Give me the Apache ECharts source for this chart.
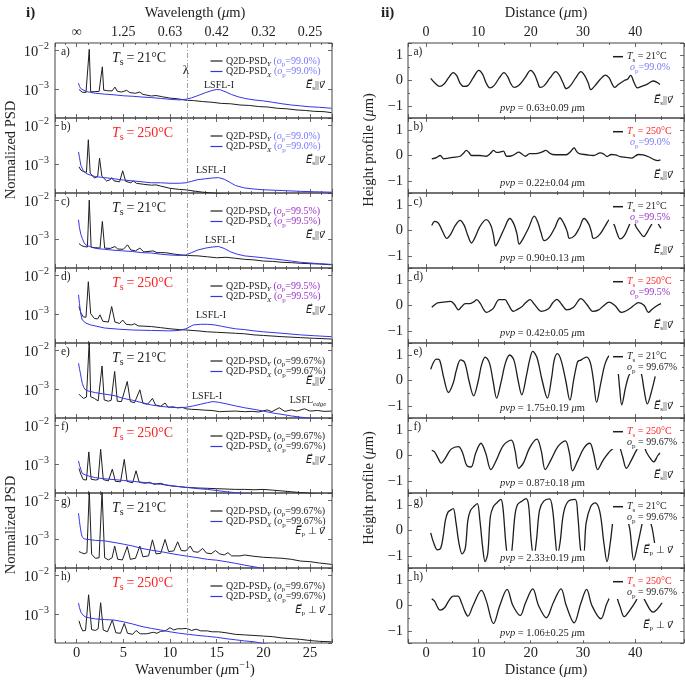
<!DOCTYPE html>
<html><head><meta charset="utf-8">
<script src="https://cdn.jsdelivr.net/npm/echarts@6/dist/echarts.min.js"></script>
<style>html,body{margin:0;padding:0;background:#fff}#c{width:685px;height:686px}</style>
</head><body><div id="c"></div><script>
// ---------------- DATA ----------------
const lambdaK = 11.8;
const waveTickK = [0, 5, 10, 15, 20, 25];
const waveTickLabels = ['∞', '1.25', '0.63', '0.42', '0.32', '0.25'];
const panelLetters = ['a)', 'b)', 'c)', 'd)', 'e)', 'f)', 'g)', 'h)'];
const tempC = ['21', '250', '21', '250', '21', '250', '21', '250'];
const opValues = ['99.0', '99.0', '99.5', '99.5', '99.67', '99.67', '99.67', '99.67'];
const polarization = ['s', 's', 's', 's', 's', 's', 'p', 'p'];
const pvpValues = ['0.63±0.09', '0.22±0.04', '0.90±0.13', '0.42±0.05', '1.75±0.19', '0.87±0.18', '2.33±0.19', '1.06±0.25'];

// PSD (wavenumber µm^-1, normalized PSD)
const psdY_a = [[0.25,1.0e-3],[0.6,8.5e-4],[1.0,8.4e-4],[1.2,8.6e-4],[1.35,1.07e-2],[1.5,8.7e-4],[1.9,8.8e-4],[2.4,8.9e-4],[2.6,9.5e-4],[2.75,3.8e-3],[2.9,9.6e-4],[3.3,9.3e-4],[3.8,9.2e-4],[4.1,1.15e-3],[4.35,9.0e-4],[4.8,8.6e-4],[5.36,9.5e-4],[5.7,8.3e-4],[6.3,8.0e-4],[6.75,8.6e-4],[7.1,7.5e-4],[8,6.8e-4],[8.5,7.0e-4],[9.2,6.5e-4],[10,6.0e-4],[10.8,5.8e-4],[11.7,5.3e-4],[12.5,5.2e-4],[13.5,4.9e-4],[14.5,4.7e-4],[15.5,4.4e-4],[16.5,4.3e-4],[17.5,4.0e-4],[18.5,3.9e-4],[19.5,3.65e-4],[20.5,3.55e-4],[21.5,3.3e-4],[22.5,3.2e-4],[23.5,3.0e-4],[24.5,2.9e-4],[25.5,2.75e-4],[26.5,2.7e-4],[27.3,2.55e-4]];
const psdX_a = [[0.2,1.45e-3],[0.3,1.2e-3],[0.45,1.05e-3],[0.6,9.8e-4],[1,8.9e-4],[1.5,8.4e-4],[2,8.0e-4],[3,7.6e-4],[4,7.3e-4],[5,6.9e-4],[6,6.7e-4],[7,6.4e-4],[8,6.2e-4],[9,5.9e-4],[10,5.6e-4],[11,5.4e-4],[11.7,5.6e-4],[12.3,6.1e-4],[13,7.0e-4],[13.8,8.3e-4],[14.5,9.4e-4],[15,1.0e-3],[15.4,9.8e-4],[16,8.6e-4],[16.6,7.4e-4],[17.3,6.5e-4],[18,5.9e-4],[19,5.4e-4],[20,5.1e-4],[21,4.7e-4],[22,4.3e-4],[23,4.0e-4],[24,3.8e-4],[25,3.6e-4],[26,3.5e-4],[27.3,3.3e-4]];

const psdY_b = [[0.25,8.7e-4],[0.45,7.2e-4],[0.7,6.6e-4],[1.05,6.3e-4],[1.25,4.3e-3],[1.45,6.0e-4],[1.9,4.5e-4],[2.25,4.9e-4],[2.45,1.45e-3],[2.7,5.0e-4],[3.2,3.8e-4],[3.55,4.0e-4],[3.75,4.6e-4],[4.0,3.8e-4],[4.6,3.6e-4],[4.93,6.9e-4],[5.25,3.7e-4],[5.8,3.4e-4],[6.07,3.8e-4],[6.4,3.3e-4],[7.2,3.1e-4],[8,2.95e-4],[8.5,3.0e-4],[9,2.8e-4],[10,2.45e-4],[11,2.3e-4],[11.7,2.24e-4],[12.5,2.1e-4],[13.5,1.95e-4],[14.5,1.85e-4],[16,1.75e-4],[20,1.6e-4],[27.3,1.5e-4]];
const psdX_b = [[0.2,2.1e-3],[0.3,1.5e-3],[0.45,9.5e-4],[0.7,7.0e-4],[1,5.9e-4],[1.5,5.3e-4],[2,4.9e-4],[3,4.6e-4],[4,4.3e-4],[5,4.0e-4],[6,3.8e-4],[7,3.6e-4],[8,3.4e-4],[9,3.4e-4],[10,3.3e-4],[11,3.3e-4],[11.7,3.4e-4],[12.3,3.7e-4],[13,4.1e-4],[13.8,4.3e-4],[14.5,4.5e-4],[15.2,4.6e-4],[15.8,4.2e-4],[16.5,3.4e-4],[17,2.9e-4],[18,2.5e-4],[19,2.35e-4],[20,2.25e-4],[22,2.15e-4],[24,2.05e-4],[25.5,2.0e-4],[27.3,1.95e-4]];

const psdY_c = [[0.25,7.9e-4],[0.5,7.0e-4],[0.8,6.6e-4],[1.15,6.4e-4],[1.35,1.02e-2],[1.55,6.3e-4],[2.0,6.2e-4],[2.5,6.0e-4],[2.75,2.9e-3],[3.0,6.0e-4],[3.6,5.9e-4],[4.1,6.6e-4],[4.4,5.7e-4],[5.0,5.6e-4],[5.45,7.3e-4],[5.8,5.4e-4],[6.3,5.1e-4],[6.77,6.0e-4],[7.2,4.8e-4],[8.2,5.1e-4],[8.6,4.6e-4],[9.5,4.6e-4],[10.5,4.2e-4],[11.7,3.9e-4],[13,3.8e-4],[14,3.6e-4],[15,3.4e-4],[16,3.5e-4],[17,3.3e-4],[18,3.1e-4],[19,3.0e-4],[20,2.8e-4],[21,2.75e-4],[22,2.6e-4],[23,2.55e-4],[24,2.45e-4],[25,2.4e-4],[26,2.35e-4],[27.3,2.25e-4]];
const psdX_c = [[0.2,3.2e-3],[0.3,2.0e-3],[0.45,1.35e-3],[0.6,1.07e-3],[0.8,8.2e-4],[1,7.2e-4],[1.5,6.5e-4],[2,5.9e-4],[3,5.6e-4],[4,5.3e-4],[5,5.1e-4],[6,4.9e-4],[7,4.6e-4],[8,4.5e-4],[9,4.2e-4],[10,4.0e-4],[11,3.9e-4],[11.7,4.0e-4],[12.3,4.6e-4],[13,5.4e-4],[13.8,6.0e-4],[14.5,6.4e-4],[15.2,6.6e-4],[15.8,5.9e-4],[16.5,4.8e-4],[17.2,4.2e-4],[18,3.8e-4],[19,3.6e-4],[20,3.4e-4],[21,3.2e-4],[22,3.0e-4],[23,2.8e-4],[24,2.6e-4],[25,2.5e-4],[26,2.4e-4],[27.3,2.3e-4]];

const psdY_d = [[0.25,1.6e-3],[0.45,1.1e-3],[0.7,8.7e-4],[1.0,8.5e-4],[1.25,6.9e-3],[1.5,1.05e-3],[1.9,7.9e-4],[2.25,7.7e-4],[2.5,9.8e-4],[2.8,6.7e-4],[3.4,6.4e-4],[3.75,1.6e-3],[4.1,6.4e-4],[4.6,5.9e-4],[4.93,7.2e-4],[5.3,5.6e-4],[5.9,5.4e-4],[6.2,5.8e-4],[6.6,5.1e-4],[8,4.9e-4],[9,4.6e-4],[10,4.3e-4],[11,4.1e-4],[11.7,4.0e-4],[13,3.8e-4],[14,3.6e-4],[15,3.5e-4],[16,3.4e-4],[17,3.3e-4],[18,3.2e-4],[19,3.0e-4],[20,2.9e-4],[22,2.7e-4],[24,2.55e-4],[25.5,2.45e-4],[27.3,2.35e-4]];
const psdX_d = [[0.2,3.2e-3],[0.3,1.9e-3],[0.45,1.0e-3],[0.6,7.2e-4],[1,6.0e-4],[1.5,5.4e-4],[3,4.5e-4],[4.5,4.2e-4],[6,4.0e-4],[8,3.9e-4],[10,3.8e-4],[11,3.9e-4],[11.7,4.3e-4],[12.5,5.4e-4],[13.3,5.6e-4],[14,5.6e-4],[14.8,5.4e-4],[15.5,5.0e-4],[16.3,4.6e-4],[17,4.3e-4],[18,4.1e-4],[19,3.8e-4],[20,3.6e-4],[22,3.3e-4],[24,3.0e-4],[25.5,2.85e-4],[27.3,2.7e-4]];

const psdY_e = [[0.25,7.6e-4],[0.5,6.6e-4],[0.75,5.9e-4],[1.05,6.4e-4],[1.2,7.0e-4],[1.35,1.78e-2],[1.5,6.5e-4],[1.9,5.9e-4],[2.3,5.1e-4],[2.72,4.0e-3],[2.95,5.4e-4],[3.4,5.0e-4],[3.7,5.3e-4],[4.07,2.9e-3],[4.35,5.0e-4],[4.8,4.9e-4],[5.42,1.6e-3],[5.75,4.9e-4],[6.2,4.6e-4],[6.77,9.8e-4],[7.1,4.4e-4],[7.6,4.2e-4],[8.12,5.9e-4],[8.45,4.0e-4],[9.0,3.7e-4],[9.47,4.5e-4],[9.8,3.5e-4],[10.3,3.6e-4],[10.8,3.4e-4],[11.3,3.5e-4],[11.7,3.2e-4],[12.3,3.1e-4],[13,3.05e-4],[13.7,2.95e-4],[14.5,2.9e-4],[15.3,2.7e-4],[16,2.75e-4],[17,2.8e-4],[18,2.7e-4],[18.8,2.75e-4],[19.5,2.65e-4],[20.4,3.0e-4],[20.9,2.7e-4],[21.7,3.4e-4],[22.3,2.75e-4],[23,3.0e-4],[23.6,2.8e-4],[24.4,3.2e-4],[25,2.8e-4],[25.8,2.9e-4],[26.5,2.75e-4],[27.3,2.8e-4]];
const psdX_e = [[0.2,4.7e-3],[0.3,3.4e-3],[0.4,2.6e-3],[0.5,1.9e-3],[0.6,1.45e-3],[0.75,1.15e-3],[0.9,1.0e-3],[1.2,9.2e-4],[2,8.3e-4],[3,7.6e-4],[4,7.0e-4],[5,5.9e-4],[6,5.3e-4],[7,4.6e-4],[8,4.0e-4],[9,3.7e-4],[10,3.5e-4],[11,3.4e-4],[11.7,3.5e-4],[12.5,3.8e-4],[13.3,4.2e-4],[14,4.6e-4],[14.6,4.9e-4],[15.2,4.7e-4],[16,4.3e-4],[17,3.8e-4],[18,3.4e-4],[19,3.1e-4],[20,2.8e-4],[21,2.5e-4],[22,2.3e-4],[23,2.1e-4],[24,1.95e-4],[25,1.82e-4],[26,1.72e-4],[27.3,1.6e-4]];

const psdY_f = [[0.25,7.9e-4],[0.45,5.6e-4],[0.7,4.1e-4],[1.05,4.0e-4],[1.3,2.1e-3],[1.55,4.2e-4],[2.0,4.0e-4],[2.3,4.1e-4],[2.57,2.45e-3],[2.85,4.1e-4],[3.4,3.8e-4],[3.82,7.6e-4],[4.15,3.7e-4],[4.7,3.6e-4],[5.1,1.35e-3],[5.4,3.7e-4],[6.0,3.4e-4],[6.36,6.9e-4],[6.7,3.5e-4],[7.3,3.3e-4],[7.8,3.5e-4],[8.3,3.1e-4],[9,3.3e-4],[9.5,3.0e-4],[10,2.85e-4],[11,2.7e-4],[11.7,2.6e-4],[13,2.5e-4],[14,2.45e-4],[15,2.4e-4],[16,2.35e-4],[17,2.3e-4],[18,2.3e-4],[19,2.25e-4],[20,2.3e-4],[21,2.2e-4],[22,2.1e-4],[23,2.0e-4],[24,1.9e-4],[25,1.82e-4],[26,1.75e-4],[27.3,1.7e-4]];
const psdX_f = [[0.2,1.23e-3],[0.3,9.5e-4],[0.45,7.4e-4],[0.6,5.9e-4],[1,5.3e-4],[1.5,4.9e-4],[2,4.6e-4],[3,4.3e-4],[4,4.1e-4],[5,3.9e-4],[6,3.7e-4],[7,3.5e-4],[8,3.3e-4],[9,3.1e-4],[10,2.9e-4],[11,2.7e-4],[12,2.55e-4],[13,2.4e-4],[14,2.3e-4],[15,2.15e-4],[16,2.0e-4],[17,1.9e-4],[18,1.78e-4],[19,1.7e-4],[20,1.62e-4]];

const psdY_g = [[0.25,4.9e-4],[0.5,4.6e-4],[0.8,4.3e-4],[1.1,4.6e-4],[1.35,1.78e-2],[1.6,4.2e-4],[2.0,3.3e-4],[2.4,3.4e-4],[2.72,1.66e-2],[3.0,3.4e-4],[3.4,3.0e-4],[3.8,3.4e-4],[4.07,6.8e-4],[4.4,3.1e-4],[4.9,3.0e-4],[5.42,6.6e-4],[5.75,3.1e-4],[6.3,3.3e-4],[6.77,6.8e-4],[7.1,3.6e-4],[7.7,3.8e-4],[8.12,9.8e-4],[8.5,4.3e-4],[9.0,4.4e-4],[9.47,1.0e-3],[9.85,4.9e-4],[10.4,5.1e-4],[10.82,8.7e-4],[11.2,5.2e-4],[11.7,5.1e-4],[12.17,6.8e-4],[12.5,4.9e-4],[13.0,4.7e-4],[13.5,5.9e-4],[13.9,4.5e-4],[14.4,4.3e-4],[14.87,5.2e-4],[15.3,4.3e-4],[15.8,4.0e-4],[16.2,4.6e-4],[16.6,3.8e-4],[17.5,3.8e-4],[18,4.0e-4],[19,3.7e-4],[20,3.5e-4],[21,3.4e-4],[22,3.3e-4],[23,3.1e-4],[24,2.8e-4],[25,2.7e-4],[26,2.5e-4],[27.3,2.3e-4]];
const psdX_g = [[0.2,4.7e-3],[0.3,2.9e-3],[0.4,1.95e-3],[0.5,1.4e-3],[0.6,1.17e-3],[0.8,1.03e-3],[1.0,9.8e-4],[2,9.5e-4],[3,9.2e-4],[4,8.4e-4],[5,7.6e-4],[6,6.8e-4],[7,5.9e-4],[8,5.3e-4],[9,4.9e-4],[10,4.4e-4],[11,4.0e-4],[12,3.7e-4],[13,3.4e-4],[14,3.1e-4],[15,2.95e-4],[16,2.7e-4],[17,2.45e-4],[18,2.2e-4],[19,2.0e-4],[20,1.8e-4],[21,1.65e-4]];

const psdY_h = [[0.25,6.9e-4],[0.45,4.8e-4],[0.65,3.8e-4],[0.95,3.9e-4],[1.28,3.2e-3],[1.6,4.1e-4],[2.0,3.9e-4],[2.3,4.3e-4],[2.57,2.0e-3],[2.85,4.0e-4],[3.3,3.6e-4],[3.82,7.2e-4],[4.2,3.4e-4],[4.7,3.3e-4],[5.1,5.9e-4],[5.45,3.3e-4],[6.0,3.1e-4],[6.36,3.9e-4],[6.8,3.2e-4],[7.5,3.2e-4],[8.2,3.5e-4],[8.6,3.3e-4],[9,3.7e-4],[9.5,3.8e-4],[10,4.6e-4],[10.4,4.0e-4],[10.8,4.3e-4],[11.3,4.3e-4],[11.8,4.4e-4],[12.3,3.9e-4],[12.8,4.2e-4],[13.3,3.8e-4],[14,3.8e-4],[14.5,3.6e-4],[15.2,3.6e-4],[16,3.4e-4],[17,3.1e-4],[18,3.0e-4],[19,2.9e-4],[20,2.8e-4],[21,2.7e-4],[22,2.5e-4],[23,2.4e-4],[24,2.3e-4],[25,2.15e-4],[26,2.05e-4],[27.3,2.0e-4]];
const psdX_h = [[0.2,1.95e-3],[0.3,1.5e-3],[0.45,1.15e-3],[0.7,9.5e-4],[1,8.5e-4],[2,7.7e-4],[3,7.4e-4],[4,7.2e-4],[5,6.5e-4],[6,5.7e-4],[7,4.9e-4],[8,4.4e-4],[9,4.0e-4],[10,3.6e-4],[11,3.3e-4],[12,3.1e-4],[13,2.9e-4],[14,2.75e-4],[15,2.6e-4],[16,2.4e-4],[17,2.25e-4],[18,2.1e-4],[19,2.0e-4],[20,1.8e-4],[21,1.65e-4]];

// Height profiles (distance µm, height µm)
const prof_a = [[0.9,0.08],[1.8,-0.12],[2.6,-0.23],[3.4,-0.15],[4.3,0.1],[5.2,0.31],[5.9,0.18],[6.5,-0.1],[7.2,-0.23],[8.0,-0.2],[9.0,0.1],[10.1,0.4],[10.8,0.25],[11.5,-0.1],[12.2,-0.29],[13.0,-0.2],[14.0,0.1],[14.9,0.31],[15.6,0.15],[16.2,-0.12],[16.8,-0.27],[17.7,-0.2],[18.9,0.1],[20,0.4],[20.7,0.25],[21.3,-0.05],[21.8,-0.27],[22.6,-0.2],[23.7,0.1],[24.8,0.35],[25.5,0.2],[26.2,-0.1],[26.8,-0.32],[27.6,-0.2],[28.6,0.1],[29.6,0.35],[30.3,0.2],[31.0,-0.1],[31.5,-0.36],[32.3,-0.2],[33.3,0.05],[34.3,0.21],[35.0,0.1],[35.6,-0.15],[36.0,-0.27],[36.8,-0.15],[37.9,0.0],[38.5,0.05],[39.1,0.2],[39.8,-0.1],[40.4,-0.29],[41.2,-0.23],[42.4,-0.13],[43.4,-0.02],[44.2,-0.08],[44.7,-0.16]];
const prof_b = [[1.1,-0.13],[2.0,-0.08],[2.7,0.0],[3.4,-0.13],[4.3,-0.1],[5.2,-0.07],[6.5,-0.03],[7.2,0.1],[7.7,0.2],[8.2,0.12],[8.7,0.0],[9.5,0.0],[10.3,0.0],[11.5,-0.03],[12.3,0.08],[12.9,0.2],[13.5,0.12],[14.1,0.13],[14.8,0.17],[15.4,-0.03],[16.2,-0.02],[17.0,0.05],[17.7,0.13],[18.4,0.05],[19.0,-0.03],[19.8,0.07],[21.0,0.07],[22.1,0.13],[22.9,0.2],[23.6,0.1],[24.2,0.04],[25.5,0.03],[26.8,0.03],[27.6,0.15],[28.3,0.3],[28.8,0.15],[29.3,0.07],[30.7,0.03],[32.0,0.0],[33.3,0.1],[34.0,0.05],[34.6,-0.04],[35.4,0.04],[36.2,0.02],[37.1,-0.04],[38.2,-0.07],[39.3,-0.1],[40.0,-0.02],[40.6,0.04],[41.5,0.02],[42.5,-0.05],[43.7,-0.17],[44.3,-0.2],[44.8,-0.17]];
const prof_c = [[1.1,0.2],[1.7,0.36],[2.4,0.28],[3.2,-0.05],[4.0,-0.31],[4.7,-0.15],[5.6,0.2],[6.5,0.4],[7.3,0.2],[8.0,-0.2],[8.7,-0.49],[9.3,-0.3],[10.3,0.15],[11.5,0.43],[12.4,0.2],[12.9,-0.2],[13.3,-0.6],[14.0,-0.35],[15.0,0.1],[16.0,0.47],[16.8,0.25],[17.4,-0.15],[17.8,-0.53],[18.6,-0.3],[19.6,0.1],[20.7,0.56],[21.4,0.3],[22.0,-0.1],[22.6,-0.4],[23.6,-0.25],[24.6,0.1],[25.6,0.49],[26.4,0.25],[27.0,-0.05],[27.4,-0.31],[28.4,-0.2],[29.3,0.1],[30.2,0.47],[31.1,0.25],[31.6,-0.05],[32.0,-0.31],[33.2,-0.15],[34.3,0.2],[35.1,0.43],[35.9,0.25],[36.5,-0.1],[37.1,-0.33],[37.9,-0.2],[38.6,0.1],[39.1,0.33],[39.6,0.45],[40.1,0.16],[40.8,-0.05],[41.6,-0.24],[42.3,-0.05],[43.0,0.2],[43.8,0.45],[44.6,0.18],[44.9,0.08]];
const prof_d = [[1.1,-0.07],[1.8,0.05],[2.2,0.1],[3.3,0.13],[4.7,0.16],[5.4,0.05],[6.2,-0.17],[6.8,-0.05],[7.5,0.07],[8.3,0.07],[9.2,0.15],[9.7,0.23],[10.3,0.1],[11.6,-0.27],[12.3,-0.2],[12.9,-0.1],[14.0,0.23],[15.1,0.23],[15.7,0.05],[16.7,-0.23],[17.5,-0.15],[18.3,-0.05],[19.0,0.1],[19.9,0.23],[20.7,0.05],[22.1,-0.23],[23.4,-0.13],[24.2,0.1],[25.0,0.24],[25.9,0.05],[26.9,-0.17],[28.2,-0.07],[29.6,0.27],[30.7,0.05],[31.9,-0.23],[33.0,-0.17],[34.0,0.0],[35.0,0.13],[36.1,0.0],[37.4,-0.27],[38.9,-0.13],[40.0,0.05],[40.6,0.11],[41.7,0.0],[42.5,-0.27],[43.2,-0.15],[44.2,0.0],[44.9,0.07]];
const prof_e = [[0.9,0.44],[2.0,0.84],[2.6,0.8],[3.4,0.1],[4.3,-0.47],[5.2,-0.1],[5.8,0.4],[6.6,0.81],[7.4,0.7],[8.2,0.0],[9.1,-0.6],[10.0,0.0],[10.6,0.6],[11.3,0.92],[12.1,0.7],[12.8,0.0],[13.5,-0.69],[14.3,-0.1],[15.2,0.7],[16.0,1.0],[16.8,0.8],[17.6,0.0],[18.3,-0.56],[19.2,0.2],[19.8,0.8],[20.4,1.14],[21.2,0.9],[22.2,0.0],[23.2,-0.69],[24.0,0.1],[24.5,0.8],[25.1,1.05],[25.8,0.8],[26.7,0.0],[27.5,-0.78],[28.2,0.0],[28.9,0.7],[29.2,0.78],[29.6,0.8],[30.2,0.88],[30.7,0.92],[31.4,0.7],[32.0,0.0],[32.6,-0.86],[33.4,-0.1],[34.3,0.7],[35.3,1.0],[36.0,0.9],[36.6,0.5],[37.0,-0.3],[37.4,-0.95],[38.1,-0.3],[38.6,0.1],[39.0,0.3],[40.1,0.95],[41.2,0.22],[41.7,-0.4],[42.3,-0.92],[43.0,-0.5],[43.8,0.16]];
const prof_f = [[1.1,0.2],[1.6,0.15],[2.3,-0.1],[2.9,-0.3],[3.7,-0.1],[4.8,0.25],[6.2,0.35],[7.0,0.1],[7.8,-0.4],[8.6,-0.45],[9.5,0.1],[10.5,0.48],[11.4,0.1],[12.4,-0.55],[13.4,-0.2],[14.8,0.4],[16.3,0.6],[17.0,0.2],[17.7,-0.5],[18.6,-0.3],[19.8,0.3],[21.2,0.64],[22.0,0.2],[22.8,-0.55],[23.8,-0.2],[25.2,0.35],[26.6,0.57],[27.4,0.1],[28.0,-0.6],[29.0,-0.2],[30.2,0.3],[31.3,0.48],[32.0,0.1],[32.8,-0.55],[33.8,-0.2],[35.3,0.2],[36.8,0.35],[37.5,0.0],[38.3,-0.5],[39.2,-0.2],[40.2,0.2],[41.2,0.5],[42.2,0.1],[43.0,-0.15],[43.5,-0.25],[44.3,0.0],[44.7,0.1]];
const prof_g = [[0.9,-0.09],[1.5,-0.5],[2.2,-0.76],[2.8,-0.7],[3.3,-0.2],[3.7,0.4],[4.2,0.72],[4.7,0.8],[5.2,0.86],[5.7,0.35],[6.3,-0.5],[6.9,-0.92],[7.5,-0.7],[8.0,0.4],[8.5,0.78],[9.2,0.95],[9.8,1.05],[10.3,0.4],[10.8,-0.6],[11.3,-1.22],[11.8,-0.9],[12.3,0.55],[12.9,0.95],[13.6,1.1],[14.3,1.22],[14.7,0.9],[15.3,-0.6],[15.9,-1.38],[16.4,-0.8],[17.0,0.6],[17.5,1.02],[18.3,1.15],[19.1,1.25],[19.6,1.0],[20.1,-0.4],[20.6,-1.05],[21.1,-0.4],[21.7,0.8],[22.5,1.15],[23.6,1.24],[24.2,0.8],[24.7,-0.3],[25.1,-0.95],[25.6,-0.5],[26.3,0.7],[27.2,1.15],[28.5,1.22],[29.0,0.6],[29.6,-0.85],[30.1,-0.9],[30.6,0.3],[31.5,0.95],[32.3,1.08],[33.2,0.75],[34.0,-0.5],[34.6,-1.22],[35.2,-0.5],[35.9,0.6],[36.6,0.98],[37.1,1.06],[37.8,0.9],[38.9,0.1],[39.7,-1.16],[40.4,-0.6],[41.2,0.17],[42.0,0.9],[42.6,0.5],[43.2,0.1],[43.7,-0.5],[44.2,-0.95]];
const prof_h = [[1.1,0.26],[1.6,0.18],[2.7,-0.18],[3.5,-0.1],[4.4,0.2],[5.2,0.37],[6.1,0.37],[6.8,0.1],[7.4,-0.22],[8.0,-0.42],[9.0,0.0],[10.6,0.59],[11.5,0.2],[12.9,-0.71],[14.1,0.0],[15.5,0.63],[16.6,0.0],[18.0,-0.39],[19.0,0.1],[20.4,0.65],[21.5,0.0],[23.0,-0.48],[24.3,0.1],[25.8,0.65],[26.8,0.0],[28.3,-0.68],[29.6,0.1],[30.7,0.63],[31.7,0.0],[33.4,-0.52],[34.6,0.1],[35.9,0.52],[37.0,0.0],[37.9,-0.44],[38.9,-0.2],[40.1,0.17],[41.0,0.55],[41.9,0.17],[43.4,-0.26],[45.1,0.1]];

// ---------------- LAYOUT / STYLE ----------------
const FONT = 'Liberation Serif';
const FONT_E = 'Liberation Serif, DejaVu Serif, DejaVu Sans';
const INK = '#1e1e1e', BLUE = '#3535e8', RED = '#ff2020', LBLUE = '#7777ff', PURPLE = '#9a2fc8';
const YMIN = 1.86e-4, YMAX = 1.55e-2;
const LX = 55, LW = 277, RX = 408, RW = 276, TOP0 = 43, PH = 75;
const KMIN = -2.32, KMAX = 27.35, DMIN = -3.44, DMAX = 49.3, HMIN = -1.47, HMAX = 1.47;

const psdY = [psdY_a, psdY_b, psdY_c, psdY_d, psdY_e, psdY_f, psdY_g, psdY_h];
const psdX = [psdX_a, psdX_b, psdX_c, psdX_d, psdX_e, psdX_f, psdX_g, psdX_h];
const profs = [prof_a, prof_b, prof_c, prof_d, prof_e, prof_f, prof_g, prof_h];
const opColor = v => v === '99.0' ? LBLUE : (v === '99.5' ? PURPLE : INK);
const tColor = t => t === '250' ? RED : INK;
const PT = i => TOP0 + PH * i;

function rich(size, color, ccolor) {
  const base = {fontFamily: FONT, fontSize: size, lineHeight: size + 4, fill: color};
  const sub = {fontFamily: FONT, fontSize: Math.round(size * 0.7), lineHeight: Math.round(size * 0.7), verticalAlign: 'bottom', fill: color};
  return {
    n: base, i: Object.assign({}, base, {fontStyle: 'italic'}),
    sub: sub, isub: Object.assign({}, sub, {fontStyle: 'italic'}),
    sup: Object.assign({}, sub, {verticalAlign: 'top'}),
    cn: Object.assign({}, base, {fill: ccolor || color}),
    ci: Object.assign({}, base, {fontStyle: 'italic', fill: ccolor || color}),
    csub: Object.assign({}, sub, {fill: ccolor || color}),
    ie: Object.assign({}, base, {fontStyle: 'italic', fontFamily: FONT_E})
  };
}
function txt(x, y, text, r, opt) {
  opt = opt || {};
  const style = Object.assign({text: text, x: 0, y: 0, rich: r, fontFamily: FONT, fontSize: 12, fill: INK,
    align: opt.align || 'left', textAlign: opt.align || 'left', verticalAlign: 'middle', textVerticalAlign: 'middle'}, opt.style || {});
  return {type: 'text', x: x, y: y, rotation: opt.rotation || 0, z: 100, silent: true, style: style};
}

const grids = [], xAxes = [], yAxes = [], series = [], graphics = [];
const tickStyle = {color: '#444', width: 0.8};
const noLine = {show: false, onZero: false};
function xAx(g, pos, rng, split, minorSplit, label) {
  return {type: 'value', gridIndex: g, position: pos, min: rng[0], max: rng[1], splitNumber: split,
    axisLine: noLine, splitLine: {show: false},
    axisTick: {show: true, inside: true, length: 4, lineStyle: tickStyle},
    minorTick: {show: true, splitNumber: minorSplit, length: 2, lineStyle: tickStyle},
    axisLabel: label || {show: false}};
}
const numLabel = {show: true, fontFamily: FONT, fontSize: 14.5, color: INK, margin: 3, showMinLabel: false, showMaxLabel: false};

for (let p = 0; p < 8; p++) {
  grids.push({left: LX, top: PT(p), width: LW, height: PH, show: true, borderColor: '#444', borderWidth: 1});
}
for (let p = 0; p < 8; p++) {
  grids.push({left: RX, top: PT(p), width: RW, height: PH, show: true, borderColor: '#444', borderWidth: 1});
}

// Left PSD panels
for (let p = 0; p < 8; p++) {
  const g = p;
  xAxes.push(xAx(g, 'bottom', [KMIN, KMAX], 6, 4, p === 7 ? numLabel : null));
  xAxes.push(xAx(g, 'top', [KMIN, KMAX], 6, 4, p === 0 ? {show: true, fontFamily: FONT, fontSize: 14, color: INK, margin: 4,
    formatter: v => { const i = waveTickK.findIndex(k => Math.abs(k - v) < 1e-6); return i >= 0 ? waveTickLabels[i] : ''; }} : null));
  const logLabel = {show: true, margin: 6, showMinLabel: false, showMaxLabel: false,
    formatter: v => { const l = Math.log10(v); const e = Math.round(l); return Math.abs(l - e) < 1e-6 ? '{b|10}{s|−' + (-e) + '}' : ''; },
    rich: {b: {fontFamily: FONT, fontSize: 14.5, color: INK, lineHeight: 19, verticalAlign: 'bottom'},
           s: {fontFamily: FONT, fontSize: 10, color: INK, lineHeight: 10, verticalAlign: 'top'}}};
  yAxes.push({type: 'log', logBase: 10, gridIndex: g, position: 'left', min: YMIN, max: YMAX,
    axisLine: noLine, splitLine: {show: false}, axisTick: {show: true, inside: true, length: 4, lineStyle: tickStyle},
    axisLabel: logLabel});
  yAxes.push({type: 'log', logBase: 10, gridIndex: g, position: 'right', min: YMIN, max: YMAX,
    axisLine: noLine, splitLine: {show: false}, axisTick: {show: true, inside: true, length: 4, lineStyle: tickStyle},
    axisLabel: {show: false}});
  series.push({type: 'line', name: 'Q2D-PSD_Y ' + panelLetters[p], xAxisIndex: 2 * g, yAxisIndex: 2 * g, data: psdY[p],
    symbol: 'none', lineStyle: {color: INK, width: 1}, z: 3,
    markLine: {silent: true, symbol: ['none', 'none'], label: {show: false}, animation: false,
      lineStyle: {color: '#8a8a8a', width: 0.8, type: [5, 2, 1, 2]}, data: [{xAxis: lambdaK}]}});
  series.push({type: 'line', name: 'Q2D-PSD_X ' + panelLetters[p], xAxisIndex: 2 * g, yAxisIndex: 2 * g, data: psdX[p],
    symbol: 'none', lineStyle: {color: BLUE, width: 1}, z: 4});

  const T = PT(p);
  graphics.push(txt(61, T + 9, panelLetters[p], null, {style: {fontSize: 11.5}}));
  graphics.push(txt(112, T + 15.5, '{i|T}{sub|s}{n|\u2009=\u2009' + tempC[p] + '°C}', rich(14, tColor(tempC[p]))));
  graphics.push({type: 'rect', z: 99, silent: true, shape: {x: 205, y: T + 8, width: 122, height: 27}, style: {fill: '#fff'}});
  graphics.push({type: 'line', z: 101, silent: true, shape: {x1: 210.5, y1: T + 18, x2: 222.5, y2: T + 18}, style: {stroke: INK, lineWidth: 1.2}});
  graphics.push({type: 'line', z: 101, silent: true, shape: {x1: 210.5, y1: T + 28.5, x2: 222.5, y2: T + 28.5}, style: {stroke: BLUE, lineWidth: 1.2}});
  const oc = opColor(opValues[p]);
  graphics.push(txt(226, T + 18, '{n|Q2D-PSD}{isub|Y}{n| }{cn|(}{ci|o}{csub|p}{cn|=' + opValues[p] + '%)}', rich(10, INK, oc)));
  graphics.push(txt(226, T + 28.5, '{n|Q2D-PSD}{isub|X}{n| }{cn|(}{ci|o}{csub|p}{cn|=' + opValues[p] + '%)}', rich(10, INK, oc)));
  const eY = (p === 4 || p === 6) ? T + 38 : T + 42;
  const eTxt = polarization[p] === 's' ? '{ie|E\u20D7}{sub|s}{n|||}{ie|v\u20D7}' : '{ie|E\u20D7}{sub|p}{n| ⊥ }{ie|v\u20D7}';
  graphics.push(txt(325, eY, eTxt, rich(10, INK), {align: 'right'}));
}
// LSFL labels and lambda
graphics.push(txt(219, PT(0) + 42, '{n|LSFL-I}', rich(10, INK), {align: 'center'}));
graphics.push(txt(211, PT(1) + 52.7, '{n|LSFL-I}', rich(10, INK), {align: 'center'}));
graphics.push(txt(220, PT(2) + 47, '{n|LSFL-I}', rich(10, INK), {align: 'center'}));
graphics.push(txt(211, PT(3) + 47.7, '{n|LSFL-I}', rich(10, INK), {align: 'center'}));
graphics.push(txt(207, PT(4) + 53, '{n|LSFL-I}', rich(10, INK), {align: 'center'}));
graphics.push(txt(308, PT(4) + 57.5, '{n|LSFL}{isub|edge}', rich(10, INK), {align: 'center'}));
graphics.push(txt(186, PT(0) + 27.5, '{n|λ}', rich(13, INK), {align: 'center'}));

// Right height-profile panels
for (let p = 0; p < 8; p++) {
  const g = 8 + p;
  xAxes.push(xAx(g, 'bottom', [DMIN, DMAX], 5, 2, p === 7 ? numLabel : null));
  xAxes.push(xAx(g, 'top', [DMIN, DMAX], 5, 2, p === 0 ? Object.assign({}, numLabel, {fontSize: 14, margin: 4}) : null));
  yAxes.push({type: 'value', gridIndex: g, position: 'left', min: HMIN, max: HMAX, splitNumber: 3,
    axisLine: noLine, splitLine: {show: false},
    axisTick: {show: true, inside: true, length: 4, lineStyle: tickStyle},
    minorTick: {show: true, splitNumber: 2, length: 2, lineStyle: tickStyle},
    axisLabel: {show: true, fontFamily: FONT, fontSize: 14.5, color: INK, margin: 5, showMinLabel: false, showMaxLabel: false,
      formatter: v => Math.abs(v - Math.round(v)) < 1e-6 ? (v < 0 ? '−' + Math.abs(Math.round(v)) : String(Math.round(v))) : ''}});
  yAxes.push({type: 'value', gridIndex: g, position: 'right', min: HMIN, max: HMAX, splitNumber: 3,
    axisLine: noLine, splitLine: {show: false},
    axisTick: {show: true, inside: true, length: 4, lineStyle: tickStyle},
    minorTick: {show: true, splitNumber: 2, length: 2, lineStyle: tickStyle},
    axisLabel: {show: false}});
  series.push({type: 'line', name: 'Profile ' + panelLetters[p], xAxisIndex: 2 * g, yAxisIndex: 2 * g, data: profs[p],
    symbol: 'none', smooth: 0.35, lineStyle: {color: INK, width: 1.3}, z: 3});

  const T = PT(p);
  graphics.push(txt(413.5, T + 9, panelLetters[p], null, {style: {fontSize: 11.5}}));
  graphics.push({type: 'rect', z: 99, silent: true, shape: {x: 609, y: T + 5, width: 65, height: 26}, style: {fill: '#fff'}});
  graphics.push({type: 'line', z: 101, silent: true, shape: {x1: 613, y1: T + 13.7, x2: 623, y2: T + 13.7}, style: {stroke: INK, lineWidth: 1.5}});
  graphics.push(txt(627, T + 13.7, '{i|T}{sub|s}{n| = ' + tempC[p] + '°C}', rich(10, tColor(tempC[p]))));
  const oc = opColor(opValues[p]);
  const opTxt = opValues[p] === '99.67' ? '{ci|o}{csub|p}{cn| = 99.67%}' : '{ci|o}{csub|p}{cn|=' + opValues[p] + '%}';
  graphics.push(txt(opValues[p] === '99.67' ? 627 : 630, T + 24.3, opTxt, rich(10, INK, oc)));
  graphics.push(txt(499, T + 65, '{i|pvp}{n| = ' + pvpValues[p] + ' }{i|μ}{n|m}', rich(10.5, INK),
    {style: {backgroundColor: '#fff', padding: [0, 1, 0, 1]}}));
  const eTxt = polarization[p] === 's' ? '{ie|E\u20D7}{sub|s}{n|||}{ie|v\u20D7}' : '{ie|E\u20D7}{sub|p}{n| ⊥ }{ie|v\u20D7}';
  graphics.push(txt(673, p === 4 ? T + 63 : T + 57, eTxt, rich(10, INK), {align: 'right', style: {backgroundColor: '#fff'}}));
}

// Titles and axis names
graphics.push(txt(26, 13, 'i)', null, {style: {fontSize: 15, fontWeight: 'bold'}}));
graphics.push(txt(381, 13, 'ii)', null, {style: {fontSize: 15, fontWeight: 'bold'}}));
graphics.push(txt(195, 13, '{n|Wavelength (}{i|μ}{n|m)}', rich(14.5, INK), {align: 'center'}));
graphics.push(txt(546, 13, '{n|Distance (}{i|μ}{n|m)}', rich(14.5, INK), {align: 'center'}));
graphics.push(txt(195, 670, '{n|Wavenumber (}{i|μ}{n|m}{sup|−1}{n|)}', rich(14.5, INK), {align: 'center'}));
graphics.push(txt(546, 670, '{n|Distance (}{i|μ}{n|m)}', rich(14.5, INK), {align: 'center'}));
graphics.push(txt(11, 150, 'Normalized PSD', null, {align: 'center', rotation: Math.PI / 2, style: {fontSize: 14.5}}));
graphics.push(txt(11, 525, 'Normalized PSD', null, {align: 'center', rotation: Math.PI / 2, style: {fontSize: 14.5}}));
graphics.push(txt(369, 150, '{n|Height profile (}{i|μ}{n|m)}', rich(14.5, INK), {align: 'center', rotation: Math.PI / 2}));
graphics.push(txt(369, 488, '{n|Height profile (}{i|μ}{n|m)}', rich(14.5, INK), {align: 'center', rotation: Math.PI / 2}));

const chart = echarts.init(document.getElementById('c'), null, {renderer: 'canvas'});
chart.setOption({
  animation: false,
  backgroundColor: '#fff',
  grid: grids, xAxis: xAxes, yAxis: yAxes, series: series,
  graphic: {elements: graphics}
});
</script></body></html>
